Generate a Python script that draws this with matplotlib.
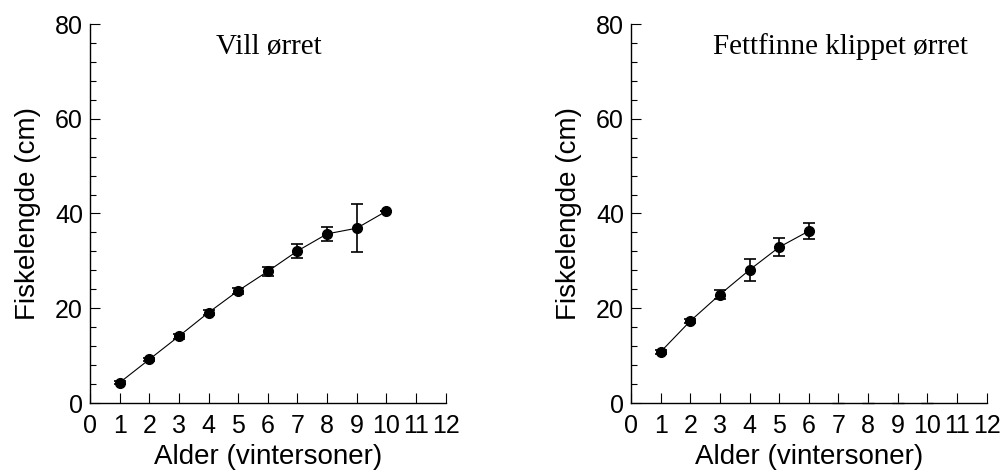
import matplotlib
matplotlib.use("Agg")
import matplotlib.pyplot as plt
from matplotlib.ticker import MultipleLocator

# Mean fish length (cm) by age (winter seasons), with standard error
wild_age = [1, 2, 3, 4, 5, 6, 7, 8, 9, 10]
wild_len = [4.3, 9.2, 14.1, 19.1, 23.7, 27.8, 32.1, 35.7, 36.9, 40.5]
wild_err = [0.3, 0.4, 0.5, 0.5, 0.6, 1.0, 1.4, 1.5, 5.0, 0.0]

clipped_age = [1, 2, 3, 4, 5, 6]
clipped_len = [10.8, 17.3, 22.9, 28.1, 32.9, 36.3]
clipped_err = [0.4, 0.5, 1.0, 2.3, 1.9, 1.6]

# Ages with no fish caught in the clipped group
clipped_empty_age = [7, 8, 9, 10]
clipped_empty_len = [0, 0, 0, 0]

titles = ["Vill ørret", "Fettfinne klippet ørret"]
xlabel = "Alder (vintersoner)"
ylabel = "Fiskelengde (cm)"
xticks = list(range(0, 13))
yticks = [0, 20, 40, 60, 80]

plt.rcParams["font.family"] = ["Liberation Sans", "DejaVu Sans"]

W, H = 1003, 473
fig = plt.figure(figsize=(W / 100, H / 100), dpi=100)

boxes = [(90, 445.7), (631, 986.7)]
y0_px, y1_px = 403, 24
axes = []
for (l, r) in boxes:
    ax = fig.add_axes([l / W, (H - y0_px) / H, (r - l) / W, (y0_px - y1_px) / H])
    axes.append(ax)

def style(ax):
    ax.set_xlim(0, 12)
    ax.set_ylim(0, 80)
    for s in ("top", "right"):
        ax.spines[s].set_visible(False)
    for s in ("left", "bottom"):
        ax.spines[s].set_linewidth(1.0)
    ax.set_xticks(xticks)
    ax.set_yticks(yticks)
    ax.yaxis.set_minor_locator(MultipleLocator(4))
    ax.tick_params(axis="both", which="major", direction="in", length=7.5,
                   width=0.8, labelsize=18)
    ax.tick_params(axis="y", which="major", pad=5)
    ax.tick_params(axis="x", which="major", pad=8)
    ax.tick_params(axis="y", which="minor", direction="in", length=4.3, width=0.8)
    ax.set_xlabel(xlabel, fontsize=20, labelpad=4)
    ax.set_ylabel(ylabel, fontsize=20, labelpad=10)

for ax in axes:
    style(ax)

ebkw = dict(fmt="-o", color="black", ecolor="black", lw=0.8, ms=7,
            elinewidth=1.2, capsize=4, capthick=1.2, clip_on=False, zorder=3)

axes[0].errorbar(wild_age, wild_len, yerr=wild_err, **ebkw)
axes[1].errorbar(clipped_age, clipped_len, yerr=clipped_err, **ebkw)
axes[1].errorbar(clipped_empty_age, clipped_empty_len, yerr=[0] * 4, fmt="none",
                 ecolor="0.6", elinewidth=1.0, capsize=4, capthick=1.0,
                 clip_on=False, zorder=2)

serif = ["Liberation Serif", "DejaVu Serif"]
axes[0].text(0.502, 0.94, titles[0], transform=axes[0].transAxes, ha="center",
             va="center", fontsize=21, family=serif)
axes[1].text(0.59, 0.94, titles[1], transform=axes[1].transAxes, ha="center",
             va="center", fontsize=21, family=serif)

fig.savefig("out.png", dpi=100)
